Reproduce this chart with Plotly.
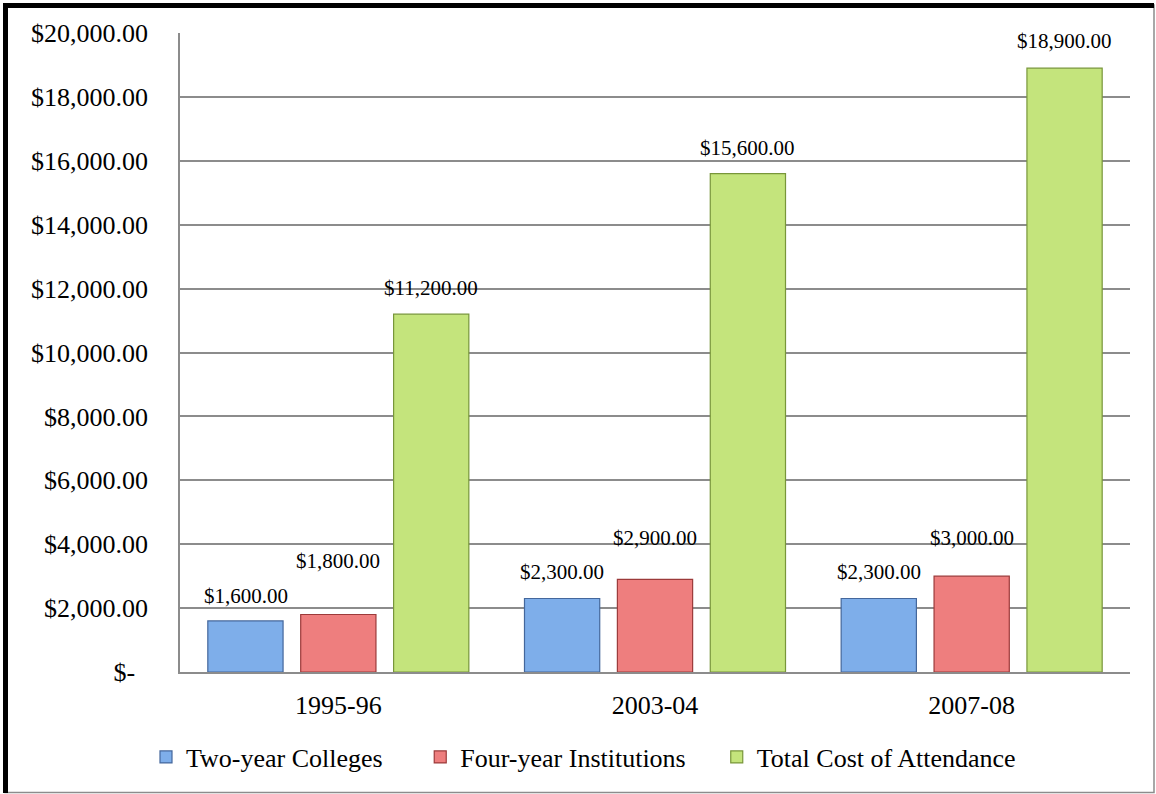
import plotly.graph_objects as go

# Academic years on the category axis
years = ["1995-96", "2003-04", "2007-08"]

# Average costs per year (US dollars)
two_year = [1600, 2300, 2300]
four_year = [1800, 2900, 3000]
total_cost = [11200, 15600, 18900]

series_names = ["Two-year Colleges", "Four-year Institutions", "Total Cost of Attendance"]

# y-axis tick values and their accounting-style labels
tick_vals = [0, 2000, 4000, 6000, 8000, 10000, 12000, 14000, 16000, 18000, 20000]
tick_text = ["$-\u00a0\u00a0", "$2,000.00", "$4,000.00", "$6,000.00", "$8,000.00",
             "$10,000.00", "$12,000.00", "$14,000.00", "$16,000.00", "$18,000.00",
             "$20,000.00"]

FONT = "Liberation Serif, Times New Roman, serif"

fills = ["#7eaeea", "#ee7e7e", "#c4e47c"]
edges = ["#44679c", "#9c3a3a", "#78963a"]

# Extra lift (px) for each series' value labels above its bars
label_lift = [
    [11, 13, 13],
    [39, 27, 24],
    [12, 12, 13],
]

# Trailing padding on the legend entries so the items sit further apart
pads = ["\u00a0" * 5, "\u00a0" * 4, ""]

fig = go.Figure()
all_values = [two_year, four_year, total_cost]
for name, pad, vals, fc, ec in zip(series_names, pads, all_values, fills, edges):
    fig.add_trace(go.Bar(
        name=name + pad, x=years, y=vals,
        marker=dict(color=fc, line=dict(color=ec, width=1.2)),
    ))

# Value labels, placed over each bar by its offset in the group
offsets = [-1, 0, 1]
annotations = []
for s, vals in enumerate(all_values):
    for i, v in enumerate(vals):
        annotations.append(dict(
            x=i + offsets[s] * 0.293, y=v, xref="x", yref="y",
            text="${:,.2f}".format(v), showarrow=False,
            yshift=label_lift[s][i], yanchor="bottom",
            font=dict(family=FONT, size=21, color="#000000"),
        ))

# Outer frame: thin grey box with a heavy black edge on top and left
W, H = 1156, 794
L, R, T, B = 180, 26, 33, 122
pw, ph = W - L - R, H - T - B
def px(x):
    return (x - L) / pw
def py(y):
    return (H - B - y) / ph

shapes = [
    dict(type="rect", xref="paper", yref="paper", x0=px(5), x1=px(1154), y0=py(792.5), y1=py(5),
         line=dict(color="#8c8c8c", width=1.5), layer="below"),
    dict(type="line", xref="paper", yref="paper", x0=px(5.5), x1=px(5.5), y0=py(793), y1=py(3),
         line=dict(color="#000000", width=5)),
    dict(type="line", xref="paper", yref="paper", x0=px(3), x1=px(1154), y0=py(5.5), y1=py(5.5),
         line=dict(color="#000000", width=5)),
]

fig.update_layout(
    width=W, height=H,
    margin=dict(l=L, r=R, t=T, b=B),
    paper_bgcolor="#ffffff", plot_bgcolor="#ffffff",
    barmode="group", bargap=0.12, bargroupgap=0.19,
    font=dict(family=FONT, color="#000000"),
    showlegend=True,
    legend=dict(
        orientation="h", x=px(146), xanchor="left", y=-0.133, yanchor="middle",
        font=dict(family=FONT, size=26, color="#000000"),
        itemwidth=30, tracegroupgap=0,
    ),
    annotations=annotations,
    shapes=shapes,
    xaxis=dict(
        type="category", showgrid=False, showline=True, linecolor="#8c8c8c", linewidth=1.5,
        ticks="", tickfont=dict(family=FONT, size=26), ticklabelstandoff=9,
    ),
    yaxis=dict(
        range=[0, 20000], tickvals=tick_vals, ticktext=tick_text,
        showgrid=True, gridcolor="#8c8c8c", gridwidth=1.5,
        showline=True, linecolor="#8c8c8c", linewidth=1.5,
        zeroline=False, ticks="", tickfont=dict(family=FONT, size=26),
        ticklabelstandoff=25,
    ),
)

fig.write_html("out.html")
